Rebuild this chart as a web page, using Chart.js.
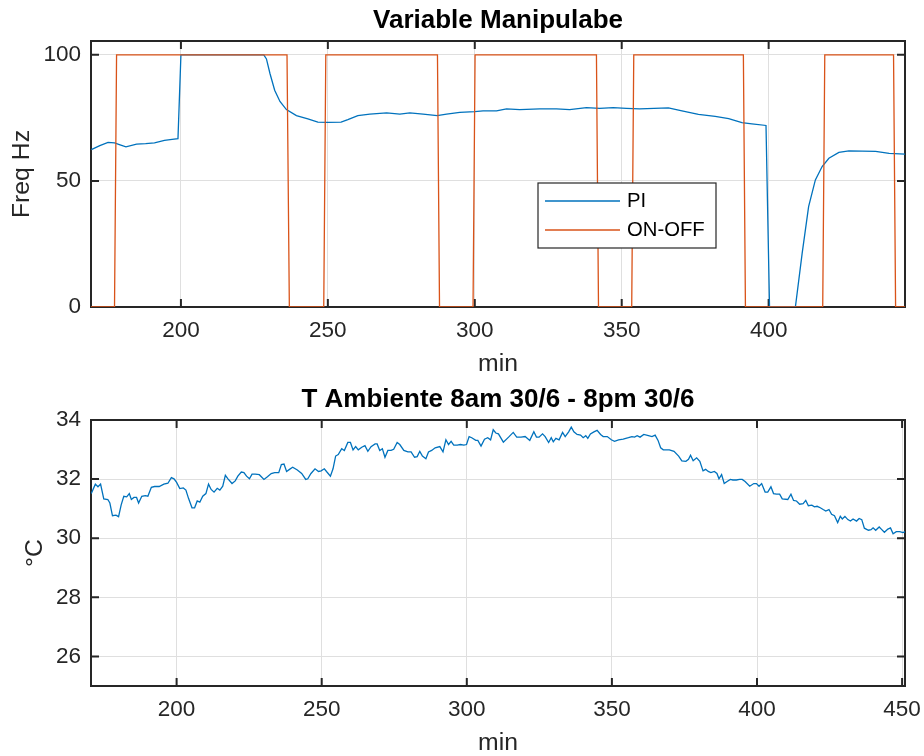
<!DOCTYPE html>
<html>
<head>
<meta charset="utf-8">
<title>Variable Manipulabe / T Ambiente</title>
<script src="https://cdn.jsdelivr.net/npm/chart.js@4.4.1/dist/chart.umd.min.js"></script>
<style>
  html, body { margin: 0; padding: 0; background: #fff; }
  .panel { position: absolute; left: 0; width: 924px; height: 378px; }
  #topPanel { top: 0; }
  #bottomPanel { top: 378px; }
</style>
</head>
<body>
<div class="panel" id="topPanel"><canvas id="freqChart"></canvas></div>
<div class="panel" id="bottomPanel"><canvas id="tempChart"></canvas></div>
<script>
// --- data ---

// top panel: manipulated variable (Hz) vs minutes
const piMinutes = [169.5, 172.4, 175.2, 177.4, 179.3, 181.3, 184.9, 188.0, 191.0, 194.4, 197.0, 199.0, 200.0,
  228.2, 229.1, 230.3, 231.9, 233.7, 235.9, 239.3, 243.2, 246.6, 250.0, 254.5, 256.8, 260.2, 264.3,
  270.0, 274.5, 277.9, 282.4, 287.2, 290.4, 294.9, 300.0, 302.8, 307.4, 310.8, 315.3, 322.1, 327.8,
  332.3, 338.0, 342.5, 347.1, 351.6, 356.1, 365.9, 370.5, 376.1, 381.8, 386.4, 390.9, 394.3, 399.1,
  400.3, 409.1, 411.4, 413.6, 415.9, 418.2, 420.5, 423.9, 427.3, 436.4, 441.0, 446.6];
const piFreq = [62.4, 64.0, 65.3, 65.1, 64.3, 63.5, 64.6, 64.8, 65.1, 66.1, 66.5, 66.8, 100,
  100, 98.4, 92.6, 86.0, 81.5, 78.3, 75.9, 74.6, 73.3, 73.2, 73.3, 74.3, 75.9, 76.5,
  77.0, 76.5, 77.0, 76.5, 75.9, 76.5, 77.2, 77.5, 77.8, 77.8, 78.6, 78.3, 78.6, 78.6,
  78.3, 79.1, 78.8, 79.1, 78.8, 78.6, 79.0, 77.8, 76.4, 75.6, 74.7, 73.1, 72.6, 72.0,
  0, 0, 21.3, 39.8, 50.4, 55.7, 59.0, 61.3, 61.9, 61.7, 60.9, 60.6];

const onOffMinutes = [169.4, 177.4, 178.1, 236.1, 236.9, 248.6, 249.3, 287.3, 288.0, 299.4, 300.1,
  341.4, 342.1, 353.4, 354.1, 391.4, 392.1, 418.4, 419.1, 442.5, 443.2, 446.4];
const onOffFreq = [0, 0, 100, 100, 0, 0, 100, 100, 0, 0, 100,
  100, 0, 0, 100, 100, 0, 0, 100, 100, 0, 0];

const freqXTicks = [200, 250, 300, 350, 400];
const freqYTicks = [0, 50, 100];

// bottom panel: ambient temperature (°C) vs minutes
const tempMinutes = [170.6, 172.0, 172.9, 173.8, 174.9, 176.3, 177.0, 177.9, 179.1, 180.0, 180.9, 181.8,
  182.8, 183.7, 184.4, 185.3, 186.2, 186.9, 188.0, 189.2, 190.1, 191.3, 192.4, 194.0, 195.6, 197.0,
  198.2, 199.1, 200.0, 201.1, 202.3, 203.2, 204.1, 205.3, 206.2, 207.1, 208.0, 209.0, 210.1, 211.0,
  211.9, 212.9, 214.0, 214.9, 215.9, 216.8, 217.7, 219.1, 220.2, 221.1, 222.3, 223.2, 224.1, 225.1,
  226.0, 227.1, 228.5, 230.1, 231.3, 232.6, 233.8, 235.2, 236.1, 237.0, 237.9, 238.9, 240.0, 241.6,
  243.1, 244.5, 245.2, 246.3, 247.7, 248.9, 249.8, 250.9, 251.8, 253.0, 253.9, 254.8, 255.7, 256.9,
  257.8, 259.0, 259.9, 260.8, 261.7, 262.6, 263.8, 264.9, 265.9, 267.0, 268.4, 269.1, 270.0, 270.9,
  271.8, 272.8, 273.9, 274.8, 276.0, 276.9, 278.3, 279.7, 280.8, 282.0, 282.9, 283.8, 284.7, 285.9,
  286.8, 287.9, 289.1, 290.7, 291.8, 292.8, 293.7, 294.6, 295.5, 296.7, 297.8, 299.0, 299.9, 300.8,
  301.7, 303.1, 303.8, 304.9, 306.1, 307.2, 308.2, 309.1, 310.0, 310.9, 312.6, 314.4, 316.0, 317.2,
  318.7, 320.1, 321.7, 323.1, 324.0, 324.9, 326.1, 327.0, 328.2, 329.1, 329.8, 330.7, 331.8, 333.0,
  333.9, 335.1, 336.0, 336.9, 338.0, 339.2, 340.1, 341.0, 341.7, 342.6, 343.8, 344.9, 346.1, 347.0,
  348.4, 349.8, 350.9, 352.3, 353.9, 355.7, 356.9, 357.8, 358.7, 359.7, 361.0, 362.6, 363.8, 364.9,
  365.9, 366.8, 367.7, 369.8, 371.4, 373.0, 374.1, 375.5, 376.4, 377.1, 378.0, 379.2, 380.3, 381.4,
  382.3, 383.2, 384.1, 385.3, 386.2, 386.9, 387.8, 388.7, 389.7, 390.8, 391.7, 392.9, 394.0, 394.9,
  395.9, 397.5, 398.9, 399.8, 400.7, 401.6, 402.8, 403.7, 404.8, 405.7, 406.7, 407.8, 408.7, 410.6,
  411.7, 412.6, 413.6, 414.7, 415.9, 416.8, 417.7, 418.9, 419.8, 420.7, 421.8, 422.8, 423.7, 424.8,
  425.7, 426.7, 427.8, 428.7, 429.4, 430.3, 431.3, 432.2, 433.1, 434.3, 435.2, 436.1, 437.0, 438.4,
  439.3, 440.0, 440.9, 442.1, 443.0, 443.9, 445.1, 446.0, 446.9, 448.0, 449.2, 450.3, 451.0];
const tempCelsius = [31.51, 31.83, 31.74, 31.83, 31.33, 31.31, 31.19, 30.76, 30.78, 30.73, 31.13, 31.42,
  31.40, 31.51, 31.31, 31.38, 31.38, 31.19, 31.42, 31.44, 31.42, 31.72, 31.75, 31.75, 31.83, 31.86,
  32.05, 32.01, 31.89, 31.68, 31.70, 31.63, 31.35, 31.03, 31.03, 31.26, 31.22, 31.42, 31.51, 31.83,
  31.65, 31.56, 31.69, 31.63, 31.76, 32.13, 32.01, 31.85, 31.94, 32.10, 32.24, 32.22, 32.10, 32.01,
  32.17, 32.17, 32.15, 31.99, 32.08, 32.19, 32.22, 32.22, 32.49, 32.51, 32.26, 32.33, 32.40, 32.31,
  32.19, 31.99, 32.01, 32.19, 32.35, 32.26, 32.28, 32.35, 32.24, 32.10, 32.35, 32.78, 32.83, 33.03,
  32.97, 33.24, 33.24, 32.99, 33.10, 32.99, 33.08, 33.13, 32.94, 33.10, 33.19, 33.19, 32.97, 33.03,
  32.74, 32.97, 32.97, 33.01, 33.24, 33.17, 32.97, 32.92, 32.92, 32.74, 32.76, 32.94, 32.78, 32.69,
  32.92, 32.97, 33.06, 33.10, 32.92, 33.33, 33.17, 33.28, 33.15, 33.15, 33.17, 33.15, 33.17, 33.44,
  33.40, 33.31, 33.31, 33.12, 33.35, 33.40, 33.33, 33.67, 33.56, 33.53, 33.25, 33.42, 33.58, 33.42,
  33.42, 33.44, 33.31, 33.60, 33.42, 33.42, 33.53, 33.44, 33.24, 33.40, 33.26, 33.38, 33.33, 33.58,
  33.44, 33.60, 33.76, 33.60, 33.51, 33.49, 33.40, 33.47, 33.38, 33.53, 33.60, 33.65, 33.51, 33.44,
  33.44, 33.33, 33.28, 33.33, 33.35, 33.40, 33.44, 33.42, 33.47, 33.42, 33.51, 33.47, 33.44, 33.49,
  33.31, 33.06, 32.99, 32.99, 32.94, 32.78, 32.62, 32.60, 32.67, 32.81, 32.62, 32.72, 32.60, 32.28,
  32.33, 32.26, 32.22, 32.26, 32.19, 32.01, 32.15, 31.85, 31.92, 31.99, 31.97, 31.97, 31.99, 31.99,
  31.92, 31.76, 31.85, 31.85, 31.76, 31.85, 31.56, 31.56, 31.74, 31.51, 31.49, 31.49, 31.33, 31.31,
  31.49, 31.28, 31.26, 31.15, 31.17, 31.28, 31.10, 31.12, 31.06, 31.08, 31.03, 30.97, 30.92, 30.97,
  30.81, 30.76, 30.53, 30.74, 30.65, 30.74, 30.63, 30.58, 30.65, 30.58, 30.67, 30.63, 30.34, 30.27,
  30.29, 30.35, 30.27, 30.38, 30.29, 30.20, 30.31, 30.35, 30.15, 30.22, 30.22, 30.19, 30.22];

const tempXTicks = [200, 250, 300, 350, 400, 450];
const tempYTicks = [26, 28, 30, 32, 34];

// --- styling ---
const FONT = "'Liberation Sans', Arial, Helvetica, sans-serif";
const AXIS_COLOR = '#262626';
const GRID_COLOR = '#dfdfdf';

function toPoints(xs, ys) {
  return xs.map((x, i) => ({ x: x, y: ys[i] }));
}

// MATLAB-like box with inward tick marks on all four sides
const matlabBox = {
  id: 'matlabBox',
  beforeDatasetsDraw(chart) {
    const { ctx, chartArea: a, scales } = chart;
    const len = 8;
    ctx.save();
    ctx.strokeStyle = AXIS_COLOR;
    ctx.lineWidth = 2;
    ctx.strokeRect(a.left, a.top, a.right - a.left, a.bottom - a.top);
    ctx.beginPath();
    scales.x.ticks.forEach(t => {
      const px = scales.x.getPixelForValue(t.value);
      ctx.moveTo(px, a.bottom); ctx.lineTo(px, a.bottom - len);
      ctx.moveTo(px, a.top); ctx.lineTo(px, a.top + len);
    });
    scales.y.ticks.forEach(t => {
      const py = scales.y.getPixelForValue(t.value);
      ctx.moveTo(a.left, py); ctx.lineTo(a.left + len, py);
      ctx.moveTo(a.right, py); ctx.lineTo(a.right - len, py);
    });
    ctx.stroke();
    ctx.restore();
  }
};

// boxed legend placed inside the plot, like the original figure
const boxLegend = {
  id: 'boxLegend',
  afterDatasetsDraw(chart, args, opts) {
    if (!opts.display) return;
    const { ctx } = chart;
    ctx.save();
    ctx.fillStyle = '#fff';
    ctx.fillRect(opts.left, opts.top, opts.width, opts.height);
    ctx.strokeStyle = AXIS_COLOR;
    ctx.lineWidth = 1.2;
    ctx.strokeRect(opts.left, opts.top, opts.width, opts.height);
    ctx.font = opts.fontSize + 'px ' + FONT;
    ctx.textBaseline = 'middle';
    ctx.textAlign = 'left';
    chart.data.datasets.forEach((ds, i) => {
      const y = opts.top + opts.firstRow + i * opts.rowGap;
      ctx.strokeStyle = ds.borderColor;
      ctx.lineWidth = 1.3;
      ctx.beginPath();
      ctx.moveTo(opts.left + 7, y);
      ctx.lineTo(opts.left + 82, y);
      ctx.stroke();
      ctx.fillStyle = '#000';
      ctx.fillText(ds.label, opts.left + 89, y);
    });
    ctx.restore();
  }
};

function makeOptions(cfg) {
  return {
    responsive: true,
    maintainAspectRatio: false,
    animation: false,
    layout: { padding: { left: 0, right: 19, top: 0, bottom: 0 } },
    plugins: {
      legend: { display: false },
      tooltip: { enabled: false },
      title: {
        display: true,
        fullSize: false, // centre over the plot area, not the whole canvas
        text: cfg.title,
        color: '#000',
        font: { family: FONT, size: 26, weight: 'bold', lineHeight: 1.2 },
        padding: { top: cfg.titleTop, bottom: cfg.titleBottom }
      },
      boxLegend: cfg.legend || { display: false }
    },
    scales: {
      x: {
        type: 'linear',
        min: cfg.xMin,
        max: cfg.xMax,
        afterBuildTicks: s => { s.ticks = cfg.xTicks.map(v => ({ value: v })); },
        afterFit: s => { s.height = cfg.xAxisHeight; s.paddingLeft = 0; s.paddingRight = 0; },
        grid: { color: GRID_COLOR, lineWidth: 1, drawTicks: false },
        border: { display: false },
        ticks: { font: { family: FONT, size: 22.5 }, color: AXIS_COLOR, padding: 10,
                 maxRotation: 0, autoSkip: false },
        title: { display: true, text: 'min', color: AXIS_COLOR,
                 font: { family: FONT, size: 24.75, lineHeight: 1 },
                 padding: { top: 0, bottom: cfg.xTitleBottom } }
      },
      y: {
        min: cfg.yMin,
        max: cfg.yMax,
        afterBuildTicks: s => { s.ticks = cfg.yTicks.map(v => ({ value: v })); },
        afterFit: s => { s.width = 91; s.paddingTop = 0; s.paddingBottom = 0; },
        grid: { color: GRID_COLOR, lineWidth: 1, drawTicks: false },
        border: { display: false },
        ticks: { font: { family: FONT, size: 22.5 }, color: AXIS_COLOR, padding: 10 },
        title: { display: true, text: cfg.yLabel, color: AXIS_COLOR,
                 font: { family: FONT, size: 24.75, lineHeight: 1.2 },
                 padding: { top: cfg.yTitleTop, bottom: 0 } }
      }
    }
  };
}

new Chart(document.getElementById('freqChart'), {
  type: 'line',
  data: {
    datasets: [
      { label: 'PI', data: toPoints(piMinutes, piFreq), borderColor: '#0072BD',
        borderWidth: 1.3, pointRadius: 0, tension: 0, fill: false, order: 1 },
      { label: 'ON-OFF', data: toPoints(onOffMinutes, onOffFreq), borderColor: '#D95319',
        borderWidth: 1.3, pointRadius: 0, tension: 0, fill: false, order: 0 }
    ]
  },
  options: makeOptions({
    title: 'Variable Manipulabe', titleTop: 5, titleBottom: 4.8,
    xMin: 169.4, xMax: 446.4, xTicks: freqXTicks, xAxisHeight: 71, xTitleBottom: 1.6,
    yMin: 0, yMax: 105.5, yTicks: freqYTicks, yLabel: 'Freq Hz', yTitleTop: 7,
    legend: { display: true, left: 538, top: 183, width: 178, height: 65,
              firstRow: 18, rowGap: 29, fontSize: 20.3 }
  }),
  plugins: [matlabBox, boxLegend]
});

new Chart(document.getElementById('tempChart'), {
  type: 'line',
  data: {
    datasets: [
      { label: 'T', data: toPoints(tempMinutes, tempCelsius), borderColor: '#0072BD',
        borderWidth: 1.3, pointRadius: 0, tension: 0, fill: false }
    ]
  },
  options: makeOptions({
    title: 'T Ambiente 8am 30/6 - 8pm 30/6', titleTop: 6, titleBottom: 4.8,
    xMin: 170.5, xMax: 451, xTicks: tempXTicks, xAxisHeight: 70, xTitleBottom: 0.6,
    yMin: 25, yMax: 34, yTicks: tempYTicks, yLabel: '°C', yTitleTop: 20
  }),
  plugins: [matlabBox]
});
</script>
</body>
</html>
